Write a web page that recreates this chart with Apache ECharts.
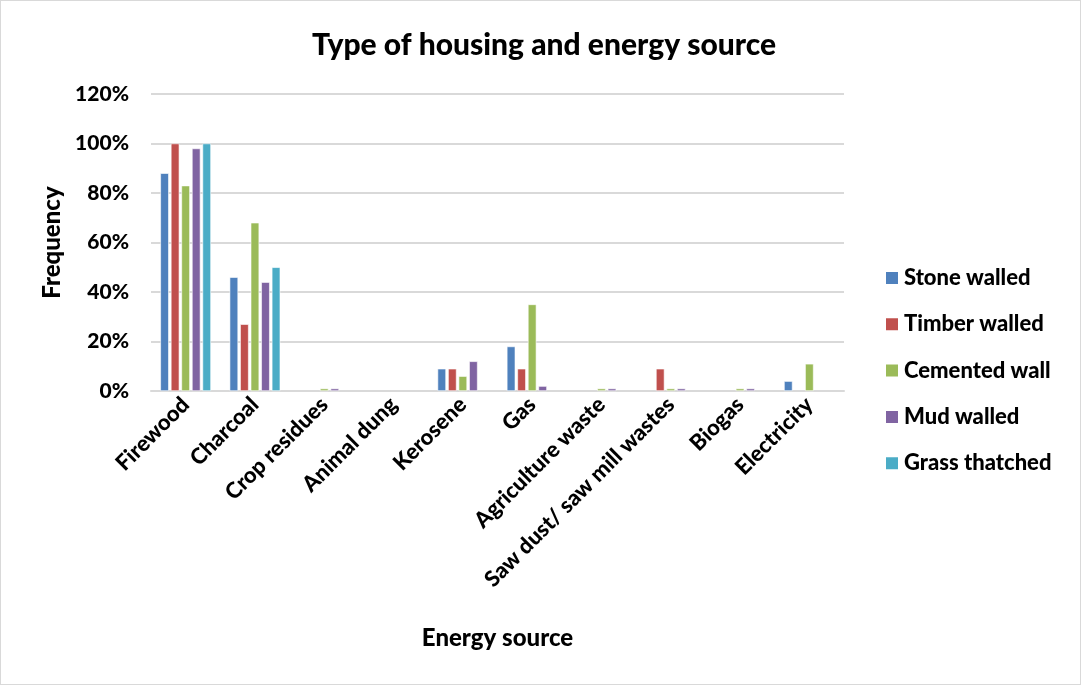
<!DOCTYPE html>
<html>
<head>
<meta charset="utf-8">
<script src="https://cdn.jsdelivr.net/npm/echarts@6/dist/echarts.min.js"></script>
<style>
  html, body { margin: 0; padding: 0; background: #fff; }
  #chart { width: 1081px; height: 685px; box-sizing: border-box; border: 1px solid #d9d9d9; }
</style>
</head>
<body>
<div id="chart"></div>
<script>
// Energy sources used by each housing type (share of households, %)
const categories = ['Firewood', 'Charcoal', 'Crop residues', 'Animal dung', 'Kerosene', 'Gas',
  'Agriculture waste', 'Saw dust/ saw mill wastes', 'Biogas', 'Electricity'];
const stoneWalled   = [88, 46, 0, 0, 9, 18, 0, 0, 0, 4];
const timberWalled  = [100, 27, 0, 0, 9, 9, 0, 9, 0, 0];
const cementedWall  = [83, 68, 1, 0, 6, 35, 1, 1, 1, 11];
const mudWalled     = [98, 44, 1, 0, 12, 2, 1, 1, 1, 0];
const grassThatched = [100, 50, 0, 0, 0, 0, 0, 0, 0, 0];
const yTicks = { min: 0, max: 120, interval: 20 };

const seriesDefs = [
  { name: 'Stone walled', data: stoneWalled, color: '#4F81BD' },
  { name: 'Timber walled', data: timberWalled, color: '#C0504D' },
  { name: 'Cemented wall', data: cementedWall, color: '#9BBB59' },
  { name: 'Mud walled', data: mudWalled, color: '#8064A2' },
  { name: 'Grass thatched', data: grassThatched, color: '#4BACC6' }
];

const font = 'Lato, "Liberation Sans", sans-serif';
const heavy = 900;
const chart = echarts.init(document.getElementById('chart'));
chart.setOption({
  animation: false,
  textStyle: { fontFamily: font },
  title: {
    text: 'Type of housing and energy source',
    left: 538, top: 24, textAlign: 'center',
    textStyle: { fontSize: 30, fontWeight: heavy, color: '#000', fontFamily: font }
  },
  legend: {
    orient: 'vertical', left: 878, top: 261,
    itemWidth: 14, itemHeight: 14, itemGap: 24.3,
    icon: 'rect',
    textStyle: { fontSize: 22, lineHeight: 22, fontWeight: heavy, color: '#000', fontFamily: font }
  },
  grid: { left: 150, right: 236, top: 93, bottom: 293, containLabel: false },
  xAxis: {
    type: 'category', data: categories,
    name: 'Energy source', nameLocation: 'middle', nameGap: 235,
    nameTextStyle: { fontSize: 24, fontWeight: heavy, color: '#000', fontFamily: font },
    axisLine: { lineStyle: { color: '#d9d9d9', width: 2 } },
    axisTick: { show: false },
    axisLabel: { rotate: 45, interval: 0, margin: 10, fontSize: 22, fontWeight: heavy, color: '#000', fontFamily: font }
  },
  yAxis: {
    type: 'value', min: yTicks.min, max: yTicks.max, interval: yTicks.interval,
    name: 'Frequency', nameLocation: 'middle', nameGap: 86, nameRotate: 90,
    nameTextStyle: { fontSize: 24, fontWeight: heavy, color: '#000', fontFamily: font },
    axisLine: { show: false },
    axisTick: { show: false },
    splitLine: { lineStyle: { color: '#d9d9d9', width: 2 } },
    axisLabel: { formatter: '{value}%', margin: 22, fontSize: 21, fontWeight: heavy, color: '#000', fontFamily: font }
  },
  series: seriesDefs.map(s => ({
    name: s.name, type: 'bar',
    // zero shares leave no visible bar
    data: s.data.map(v => (v === 0 ? null : v)),
    barWidth: 8.5, barGap: '24%',
    itemStyle: { color: s.color, borderColor: '#ffffff', borderWidth: 0.6 }
  }))
});
</script>
</body>
</html>
